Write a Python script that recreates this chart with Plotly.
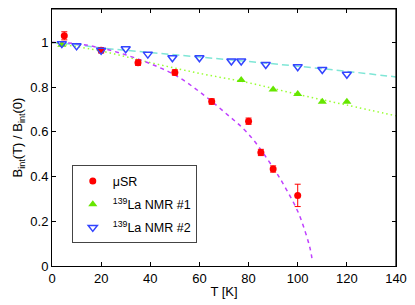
import plotly.graph_objects as go

# --- data ---
musr_T = [5, 20, 35, 50, 65, 80, 85, 90, 100]
musr_B = [1.03, 0.965, 0.91, 0.866, 0.736, 0.648, 0.508, 0.434, 0.316]
musr_err = [0.018, 0.012, 0.012, 0.012, 0.012, 0.014, 0.014, 0.014, 0.05]

nmr1_T = [4, 77, 90, 100, 110, 120]
nmr1_B = [0.99, 0.832, 0.79, 0.77, 0.735, 0.735]

nmr2_T = [4, 10, 20, 30, 39, 49, 60, 73, 77, 87, 100, 110, 120]
nmr2_B = [0.995, 0.985, 0.965, 0.972, 0.948, 0.932, 0.932, 0.917, 0.917, 0.902, 0.892, 0.879, 0.858]

fit_musr_T = [0, 10, 20, 30, 40, 50, 60, 70, 80, 90, 95, 100, 103, 105, 106]
fit_musr_B = [1.0, 0.995, 0.975, 0.945, 0.905, 0.855, 0.78, 0.69, 0.59, 0.44, 0.35, 0.245, 0.155, 0.08, 0.02]

fit_nmr1_T = [0, 20, 40, 60, 80, 100, 120, 140]
fit_nmr1_B = [1.0, 0.962, 0.91, 0.862, 0.82, 0.768, 0.72, 0.672]

fit_nmr2_T = [0, 10, 20, 40, 60, 80, 100, 120, 140]
fit_nmr2_B = [1.0, 0.99, 0.976, 0.955, 0.935, 0.915, 0.894, 0.871, 0.846]

x_ticks = [0, 20, 40, 60, 80, 100, 120, 140]
y_ticks = [0, 0.2, 0.4, 0.6, 0.8, 1.0]
y_tick_labels = ["0", "0.2", "0.4", "0.6", "0.8", "1"]
x_range = [0, 140]
y_range = [0, 1.15]

FONT = "Liberation Sans, Arial, sans-serif"

fig = go.Figure()

fig.add_trace(go.Scatter(x=fit_nmr2_T, y=fit_nmr2_B, mode="lines", line_shape="spline",
                         line=dict(color="#7fe6d6", width=1.5, dash="7px,4px"),
                         showlegend=False, hoverinfo="skip"))
fig.add_trace(go.Scatter(x=fit_nmr1_T, y=fit_nmr1_B, mode="lines", line_shape="spline",
                         line=dict(color="#99ff33", width=1.5, dash="1.5px,3px"),
                         showlegend=False, hoverinfo="skip"))
fig.add_trace(go.Scatter(x=fit_musr_T, y=fit_musr_B, mode="lines", line_shape="spline",
                         line=dict(color="#bf40ff", width=1.5, dash="4px,4px"),
                         showlegend=False, hoverinfo="skip"))

fig.add_trace(go.Scatter(x=musr_T, y=musr_B, mode="markers", name="\u03bcSR", legendgroup="a",
                         marker=dict(symbol="circle", size=7, color="#ff0000"),
                         error_y=dict(type="data", array=musr_err, color="#ff0000",
                                      thickness=1, width=3)))
fig.add_trace(go.Scatter(x=nmr1_T, y=nmr1_B, mode="markers", name="<sup>139</sup>La NMR #1",
                         legendgroup="b",
                         marker=dict(symbol="triangle-up", size=8, color="#66e600")))
fig.add_trace(go.Scatter(x=nmr2_T, y=nmr2_B, mode="markers", name="<sup>139</sup>La NMR #2",
                         legendgroup="c",
                         marker=dict(symbol="triangle-down-open", size=8, color="#3344ff",
                                     line=dict(width=1.5, color="#3344ff"))))

axis_common = dict(showline=True, linecolor="black", linewidth=1, mirror="ticks",
                   ticks="inside", ticklen=4, tickcolor="black", tickwidth=1, showgrid=False,
                   zeroline=False, tickfont=dict(family=FONT, size=13, color="black"))

fig.update_layout(
    width=415, height=305,
    margin=dict(l=52, r=15, t=8, b=37),
    paper_bgcolor="white", plot_bgcolor="white",
    font=dict(family=FONT, size=13, color="black"),
    xaxis=dict(range=x_range, tickvals=x_ticks,
               title=dict(text="T [K]", standoff=2, font=dict(family=FONT, size=13)),
               **axis_common),
    yaxis=dict(range=y_range, tickvals=y_ticks, ticktext=y_tick_labels,
               title=dict(text="B<sub>int</sub>(T) / B<sub>int</sub>(0)", standoff=4,
                          font=dict(family=FONT, size=13)),
               **axis_common),
    legend=dict(x=0.0575, y=0.392, xanchor="left", yanchor="top",
                bordercolor="#444444", borderwidth=1, bgcolor="white",
                font=dict(family=FONT, size=12.5), tracegroupgap=4),
)

# frame along the top and right edges of the plot area
fig.add_shape(type="line", xref="x", yref="y", x0=x_range[0], x1=x_range[1],
              y0=y_range[1], y1=y_range[1], line=dict(color="black", width=1.2), layer="above")
fig.add_shape(type="line", xref="x", yref="y", x0=x_range[1], x1=x_range[1],
              y0=y_range[0], y1=y_range[1], line=dict(color="black", width=1.2), layer="above")

fig.write_html("out.html", config={"displayModeBar": False},
               post_script="document.body.style.margin='0';")
